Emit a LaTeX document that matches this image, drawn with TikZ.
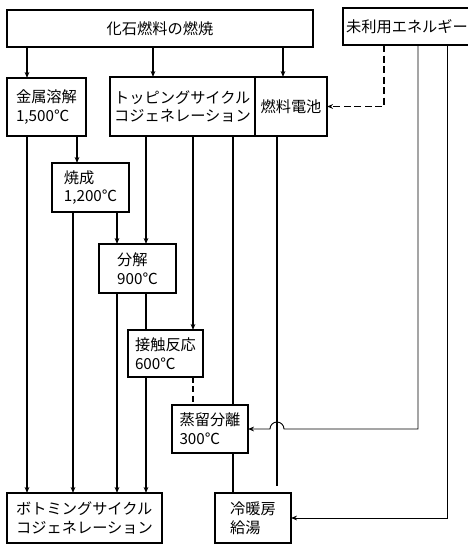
\documentclass[tikz,border=0pt]{standalone}
\usepackage{fontspec}
\newfontfamily\jp{Noto Sans CJK JP}
\usetikzlibrary{arrows.meta, calc}

\begin{document}
\begin{tikzpicture}[
    x=0.03cm, y=-0.03cm,
    font=\jp\fontsize{13}{16}\selectfont,
    proc/.style 2 args={rectangle, draw, line width=1.2pt, inner sep=2pt, outer sep=0pt, align=left, minimum width=#1*0.3mm, minimum height=#2*0.3mm},
    arrow/.style={-{Stealth[length=1.8mm, width=1.4mm]}, line width=1.2pt},
    link/.style={line width=1.2pt},
    dashlink/.style={dash pattern=on 5pt off 3pt, line width=1.2pt},
    feed/.style={-{Stealth[length=1.8mm, width=1.4mm]}, dash pattern=on 6pt off 3pt, line width=1.2pt},
    thin feed/.style={-{Stealth[length=1.8mm, width=1.4mm]}, line width=0.8pt}
]
\useasboundingbox (0,0) rectangle (468,549);

% Boxes
\node[proc={306}{37}] (burn) at (160,28.5) {化石燃料の燃焼};
\node[proc={128}{37}] (unused) at (407,26.5) {未利用エネルギー};
\node[proc={79}{58}] (melt) at (46.5,107) {金属溶解\\1,500℃};
\node[proc={145}{59}] (topping) at (182.5,106.5) {トッピングサイクル\\コジェネレーション};
\node[proc={72}{59}] (fuel) at (291,106.5) {燃料電池};
\node[proc={77}{49}] (fire) at (90.5,187.5) {焼成\\1,200℃};
\node[proc={77}{49}] (crack) at (137.5,268.5) {分解\\900℃};
\node[proc={75}{47}] (react) at (165.5,353.5) {接触反応\\600℃};
\node[proc={76}{48}] (dist) at (210,429) {蒸留分離\\300℃};
\node[proc={155}{50}] (bottom) at (84.5,518) {ボトミングサイクル\\コジェネレーション};
\node[proc={76}{50}] (heat) at (253,518) {冷暖房\\給湯};

% Columns of the connectors
\foreach \n/\x in {a/27, b/153, c/283, d/77, e/73, f/117, g/146, h/193, i/233, j/277, k/384, l/418, m/447}
    \coordinate (col\n) at (\x,0);

% From the combustion
\draw[arrow] (burn.south -| cola) -- (melt.north -| cola);
\draw[arrow] (burn.south -| colb) -- (topping.north -| colb);
\draw[arrow] (burn.south -| colc) -- (fuel.north -| colc);

% Cascade
\draw[arrow] (melt.south -| cola) -- (bottom.north -| cola);
\draw[arrow] (melt.south -| cold) -- (fire.north -| cold);
\draw[arrow] (fire.south -| cole) -- (bottom.north -| cole);
\draw[arrow] (fire.south -| colf) -- (crack.north -| colf);
\draw[arrow] (crack.south -| colf) -- (bottom.north -| colf);
\draw[arrow] (topping.south -| colg) -- (crack.north -| colg);
\draw[link] (crack.south -| colg) -- (react.north -| colg);
\draw[arrow] (react.south -| colg) -- (bottom.north -| colg);
\draw[arrow] (topping.south -| colh) -- (react.north -| colh);
\draw[dashlink] (react.south -| colh) -- (dist.north -| colh);
\draw[link] (topping.south -| coli) -- (dist.north -| coli);
\draw[link] (dist.south -| coli) -- (heat.north -| coli);
\draw[link, shorten >=2mm] (fuel.south -| colj) -- (heat.north -| colj);

% Unused energy
\draw[feed] (unused.south -| colk) |- (fuel.east);
\draw[thin feed] (unused.south -| coll) -- (dist.east -| coll) -- ($(dist.east -| colj)+(7,0)$)
    arc[start angle=0, end angle=-180, radius=7] -- (dist.east);
\draw[thin feed] (unused.south -| colm) |- (heat.east);

\end{tikzpicture}
\end{document}
